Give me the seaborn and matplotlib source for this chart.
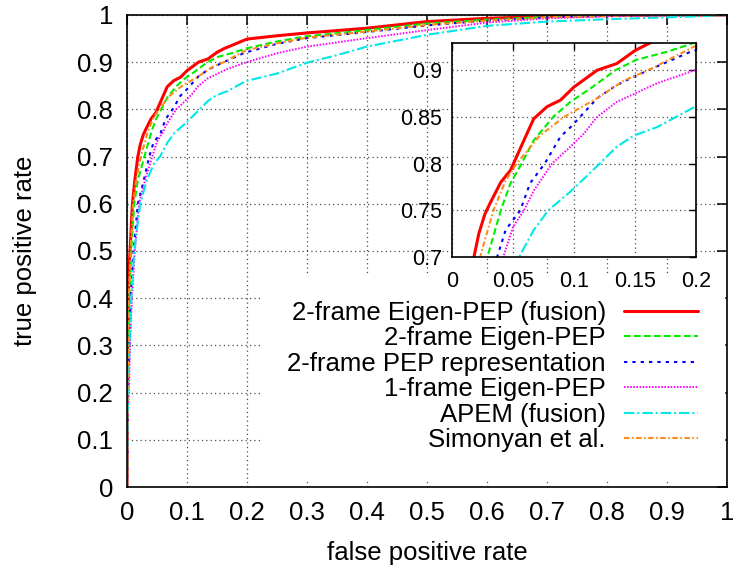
import matplotlib
matplotlib.use("Agg")
import matplotlib.pyplot as plt
import seaborn as sns
import pandas as pd

# ---------------- data ----------------
labels = ["2-frame Eigen-PEP (fusion)", "2-frame Eigen-PEP",
          "2-frame PEP representation", "1-frame Eigen-PEP",
          "APEM (fusion)", "Simonyan et al."]

fpr_red = [0, 0.0005, 0.001, 0.002, 0.003, 0.005, 0.009, 0.013, 0.018, 0.022, 0.027, 0.031,
           0.040, 0.048, 0.059, 0.067, 0.078, 0.089, 0.100, 0.119, 0.135, 0.150, 0.162,
           0.200, 0.250, 0.300, 0.350, 0.400, 0.500, 0.600, 0.700, 0.800, 0.900, 1.0]
tpr_red = [0, 0.15, 0.28, 0.38, 0.45, 0.50, 0.60, 0.65, 0.700, 0.725, 0.746, 0.757,
           0.780, 0.793, 0.825, 0.848, 0.861, 0.868, 0.882, 0.900, 0.907, 0.921, 0.929,
           0.949, 0.956, 0.962, 0.967, 0.972, 0.986, 0.993, 0.997, 0.999, 1.0, 1.0]

fpr_green = [0, 0.0005, 0.001, 0.002, 0.004, 0.007, 0.012, 0.018, 0.029, 0.040, 0.048, 0.057,
             0.067, 0.083, 0.097, 0.113, 0.134, 0.151, 0.177, 0.198,
             0.250, 0.300, 0.400, 0.500, 0.600, 0.700, 0.800, 0.900, 1.0]
tpr_green = [0, 0.12, 0.22, 0.32, 0.40, 0.50, 0.60, 0.65, 0.700, 0.750, 0.779, 0.800,
             0.825, 0.850, 0.866, 0.880, 0.900, 0.911, 0.920, 0.929,
             0.944, 0.955, 0.968, 0.982, 0.990, 0.996, 0.999, 1.0, 1.0]

fpr_blue = [0, 0.0005, 0.001, 0.002, 0.004, 0.006, 0.011, 0.018, 0.028, 0.037, 0.044, 0.056,
            0.064, 0.076, 0.089, 0.098, 0.105, 0.119, 0.135, 0.149, 0.168, 0.196,
            0.250, 0.300, 0.400, 0.500, 0.600, 0.700, 0.800, 0.900, 1.0]
tpr_blue = [0, 0.10, 0.16, 0.22, 0.30, 0.40, 0.50, 0.60, 0.65, 0.700, 0.729, 0.750,
            0.779, 0.800, 0.829, 0.840, 0.850, 0.870, 0.884, 0.893, 0.904, 0.920,
            0.939, 0.951, 0.964, 0.978, 0.988, 0.995, 0.998, 1.0, 1.0]

fpr_mag = [0, 0.0005, 0.001, 0.003, 0.005, 0.008, 0.013, 0.020, 0.030, 0.042, 0.050, 0.059,
           0.067, 0.082, 0.097, 0.108, 0.119, 0.135, 0.150, 0.168, 0.199,
           0.250, 0.300, 0.400, 0.500, 0.600, 0.700, 0.800, 0.900, 1.0]
tpr_mag = [0, 0.08, 0.14, 0.20, 0.30, 0.40, 0.50, 0.60, 0.65, 0.700, 0.732, 0.750,
           0.771, 0.800, 0.818, 0.832, 0.850, 0.866, 0.875, 0.886, 0.900,
           0.919, 0.933, 0.951, 0.968, 0.984, 0.993, 0.997, 0.999, 1.0]

fpr_cyan = [0, 0.0005, 0.001, 0.002, 0.004, 0.007, 0.012, 0.022, 0.033, 0.045, 0.055, 0.067,
            0.079, 0.097, 0.110, 0.121, 0.135, 0.149, 0.168, 0.198,
            0.250, 0.300, 0.350, 0.400, 0.500, 0.600, 0.700, 0.800, 0.900, 0.950, 1.0]
tpr_cyan = [0, 0.08, 0.14, 0.20, 0.30, 0.40, 0.50, 0.60, 0.65, 0.685, 0.700, 0.729,
            0.750, 0.770, 0.786, 0.800, 0.818, 0.830, 0.839, 0.860,
            0.876, 0.899, 0.915, 0.933, 0.958, 0.977, 0.986, 0.991, 0.995, 0.997, 1.0]

fpr_orange = [0, 0.0005, 0.001, 0.002, 0.003, 0.006, 0.010, 0.015, 0.023, 0.034, 0.044, 0.053,
              0.072, 0.092, 0.119, 0.141, 0.161, 0.198,
              0.250, 0.300, 0.400, 0.500, 0.600, 0.700, 0.800, 0.900, 1.0]
tpr_orange = [0, 0.12, 0.22, 0.32, 0.40, 0.50, 0.60, 0.65, 0.700, 0.750, 0.782, 0.800,
              0.830, 0.850, 0.870, 0.889, 0.900, 0.925,
              0.940, 0.952, 0.965, 0.979, 0.988, 0.995, 0.998, 1.0, 1.0]

main_xticks = [0, 0.1, 0.2, 0.3, 0.4, 0.5, 0.6, 0.7, 0.8, 0.9, 1.0]
main_xticklabels = ["0", "0.1", "0.2", "0.3", "0.4", "0.5", "0.6", "0.7", "0.8", "0.9", "1"]
inset_xticks = [0, 0.05, 0.1, 0.15, 0.2]
inset_xticklabels = ["0", "0.05", "0.1", "0.15", "0.2"]
inset_yticks = [0.7, 0.75, 0.8, 0.85, 0.9]
inset_yticklabels = ["0.7", "0.75", "0.8", "0.85", "0.9"]

# ---------------- styling ----------------
sns.set_theme(style="white")
plt.rcParams["font.family"] = ["Liberation Sans", "DejaVu Sans"]
plt.rcParams["text.color"] = "black"
plt.rcParams["axes.labelcolor"] = "black"
plt.rcParams["xtick.color"] = "black"
plt.rcParams["ytick.color"] = "black"

series = [
    (fpr_red, tpr_red, "#ff0000", "-", 2.2),
    (fpr_green, tpr_green, "#00ee00", (0, (3.2, 1.6)), 1.5),
    (fpr_blue, tpr_blue, "#0000ff", (0, (1.6, 2.4)), 1.5),
    (fpr_mag, tpr_mag, "#ff00ff", (0, (0.8, 0.8)), 1.4),
    (fpr_cyan, tpr_cyan, "#00e8e8", (0, (5.0, 1.4, 1.0, 1.4)), 1.5),
    (fpr_orange, tpr_orange, "#ff8c1a", (0, (2.6, 1.2, 0.8, 1.2)), 1.5),
]

fig = plt.figure(figsize=(7.33, 5.70), dpi=100)
ax = fig.add_axes([0.1733, 0.1456, 0.8185, 0.8281])
axin = fig.add_axes([0.6166, 0.549, 0.3329, 0.3754])

grid_kw = dict(color="0.3", linestyle=(0, (1, 2.5)), linewidth=0.9)

for a in (ax, axin):
    for (fx, ty, col, ls, lw), lab in zip(series, labels):
        df = pd.DataFrame({"fpr": fx, "tpr": ty})
        sns.lineplot(data=df, x="fpr", y="tpr", ax=a, color=col, linestyle=ls,
                     linewidth=lw, sort=False, estimator=None,
                     label=lab if a is ax else None, legend=False)
    a.grid(True, **grid_kw)
    for s in a.spines.values():
        s.set_color("black")
        s.set_linewidth(1.2)
    a.tick_params(direction="in", top=True, right=True, colors="black")

ax.set_xlim(0, 1)
ax.set_ylim(0, 1)
ax.set_xticks(main_xticks)
ax.set_xticklabels(main_xticklabels)
ax.set_yticks(main_xticks)
ax.set_yticklabels(main_xticklabels)
ax.tick_params(labelsize=18.5, length=7, width=1.1, pad=10)
ax.set_xlabel("false positive rate", fontsize=18.5, color="black")
ax.set_ylabel("true positive rate", fontsize=18.5, color="black")
ax.xaxis.set_label_coords(0.5, -0.115)
ax.yaxis.set_label_coords(-0.15, 0.5)

axin.set_xlim(0, 0.2)
axin.set_ylim(0.7, 0.929)
axin.set_xticks(inset_xticks)
axin.set_xticklabels(inset_xticklabels)
axin.set_yticks(inset_yticks)
axin.set_yticklabels(inset_yticklabels)
axin.tick_params(labelsize=15.5, length=5, width=1.0, pad=7)
axin.tick_params(axis="x", pad=10)
axin.set_xlabel("")
axin.set_ylabel("")
axin.set_facecolor("white")

handles, labs = ax.get_legend_handles_labels()
leg = ax.legend(handles, labs, loc="lower right", bbox_to_anchor=(0.995, 0.019),
                fontsize=18.5, markerfirst=False, frameon=True, fancybox=False,
                handlelength=2.9, handletextpad=0.7, labelspacing=0.06,
                borderpad=1.0, borderaxespad=0)
leg.get_frame().set_facecolor("white")
leg.get_frame().set_edgecolor("white")
leg.get_frame().set_alpha(1)
for t in leg.get_texts():
    t.set_ha("right")
    t.set_color("black")
leg._legend_box.align = "right"

fig.savefig("out.png", dpi=100)
